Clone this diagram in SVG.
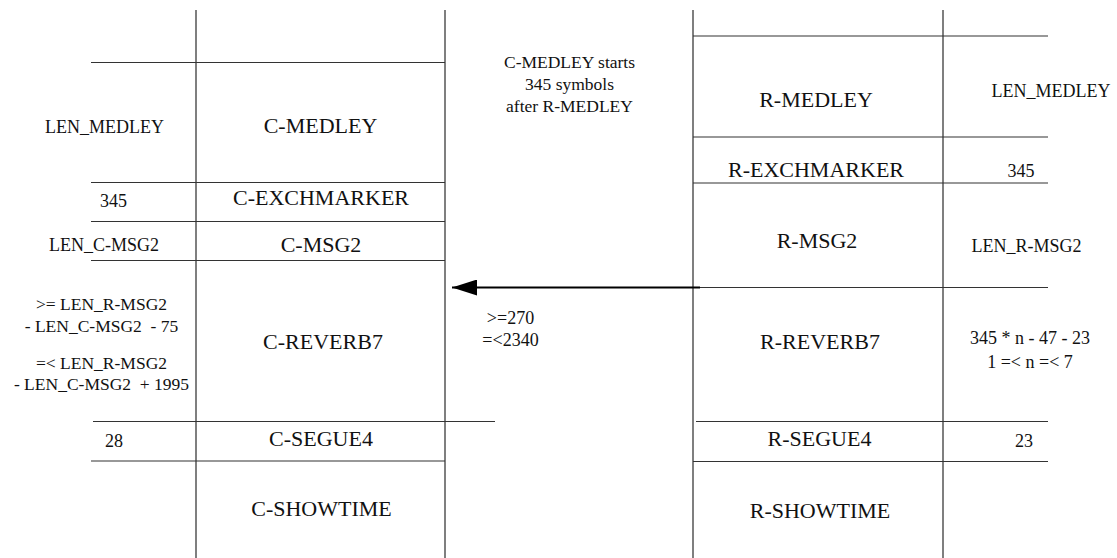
<svg xmlns="http://www.w3.org/2000/svg" width="1117" height="558" viewBox="0 0 1117 558" font-family="'Liberation Serif', Tinos, 'Times New Roman', 'DejaVu Serif', serif">
<style>
.bg{fill:#ffffff}
.v{stroke:#555;stroke-width:1.5;fill:none}
.h{stroke:#333;stroke-width:1.2;fill:none}
text{font-family:'Liberation Serif', Tinos, 'Times New Roman', 'DejaVu Serif', serif;fill:#111;text-anchor:middle}
.big{font-size:22px}
.sm{font-size:18px}
.note{font-size:17.5px}
.arrow{stroke:#000;stroke-width:2;fill:none}
</style>
<defs>
<marker id="ah" markerWidth="25" markerHeight="16" refX="25" refY="8" orient="auto" markerUnits="userSpaceOnUse">
<polygon points="0,0 25,8 0,16" fill="#000"/>
</marker>
</defs>
<rect class="bg" x="0" y="0" width="1117" height="558"/>
<g id="grid">
<line class="v" x1="196" y1="10" x2="196" y2="558"/>
<line class="v" x1="445" y1="10" x2="445" y2="558"/>
<line class="v" x1="693" y1="10" x2="693" y2="558"/>
<line class="v" x1="943" y1="10" x2="943" y2="558"/>
<line class="h" x1="91" y1="62.5" x2="445" y2="62.5"/>
<line class="h" x1="91" y1="182.5" x2="445" y2="182.5"/>
<line class="h" x1="91" y1="221.5" x2="445" y2="221.5"/>
<line class="h" x1="91" y1="260.5" x2="445" y2="260.5"/>
<line class="h" x1="93" y1="421.5" x2="495" y2="421.5"/>
<line class="h" x1="91" y1="461" x2="445" y2="461"/>
<line class="h" x1="693" y1="36" x2="1048" y2="36"/>
<line class="h" x1="693" y1="137" x2="1048" y2="137"/>
<line class="h" x1="693" y1="183" x2="1048" y2="183"/>
<line class="h" x1="693" y1="287.5" x2="1048" y2="287.5"/>
<line class="h" x1="696" y1="421.5" x2="1048" y2="421.5"/>
<line class="h" x1="693" y1="461.5" x2="1048" y2="461.5"/>
</g>
<g id="c-medley"><text class="big" x="320.5" y="132.5">C-MEDLEY</text><text class="sm" x="104.5" y="132.5">LEN_MEDLEY</text></g>
<g id="c-exchmarker"><text class="big" x="321" y="205">C-EXCHMARKER</text><text class="sm" x="113.5" y="207">345</text></g>
<g id="c-msg2"><text class="big" x="321" y="251.5">C-MSG2</text><text class="sm" x="104" y="250.5">LEN_C-MSG2</text></g>
<g id="c-reverb7"><text class="big" x="323" y="349">C-REVERB7</text>
<text class="note" x="101.5" y="310">&gt;= LEN_R-MSG2</text>
<text class="note" x="101.5" y="331.5" xml:space="preserve">- LEN_C-MSG2  - 75</text>
<text class="note" x="101.5" y="369">=&lt; LEN_R-MSG2</text>
<text class="note" x="101.5" y="390" xml:space="preserve">- LEN_C-MSG2  + 1995</text></g>
<g id="c-segue4"><text class="big" x="321" y="446">C-SEGUE4</text><text class="sm" x="114" y="446.5">28</text></g>
<g id="c-showtime"><text class="big" x="321.5" y="516">C-SHOWTIME</text></g>
<g id="note-medley"><text class="note" x="569.5" y="68">C-MEDLEY starts</text><text class="note" x="569.5" y="90">345 symbols</text><text class="note" x="569.5" y="112">after R-MEDLEY</text></g>
<g id="r-medley"><text class="big" x="816" y="106.5">R-MEDLEY</text><text class="sm" x="1051" y="96.5">LEN_MEDLEY</text></g>
<g id="r-exchmarker"><text class="big" x="816" y="176.5">R-EXCHMARKER</text><text class="sm" x="1021" y="176.5">345</text></g>
<g id="r-msg2"><text class="big" x="817" y="248">R-MSG2</text><text class="sm" x="1026.5" y="251.5">LEN_R-MSG2</text></g>
<g id="r-reverb7"><text class="big" x="820" y="349">R-REVERB7</text><text class="sm" x="1030" y="344">345 * n - 47 - 23</text><text class="sm" x="1030" y="368">1 =&lt; n =&lt; 7</text></g>
<g id="r-segue4"><text class="big" x="819.5" y="446">R-SEGUE4</text><text class="sm" x="1024" y="446.5">23</text></g>
<g id="r-showtime"><text class="big" x="820" y="518">R-SHOWTIME</text></g>
<g id="connectors">
<line class="arrow" x1="700" y1="287.5" x2="452" y2="287.5" marker-end="url(#ah)"/>
<text class="sm" x="510.5" y="323.5">&gt;=270</text>
<text class="sm" x="510.5" y="345.5">=&lt;2340</text>
</g>
</svg>
